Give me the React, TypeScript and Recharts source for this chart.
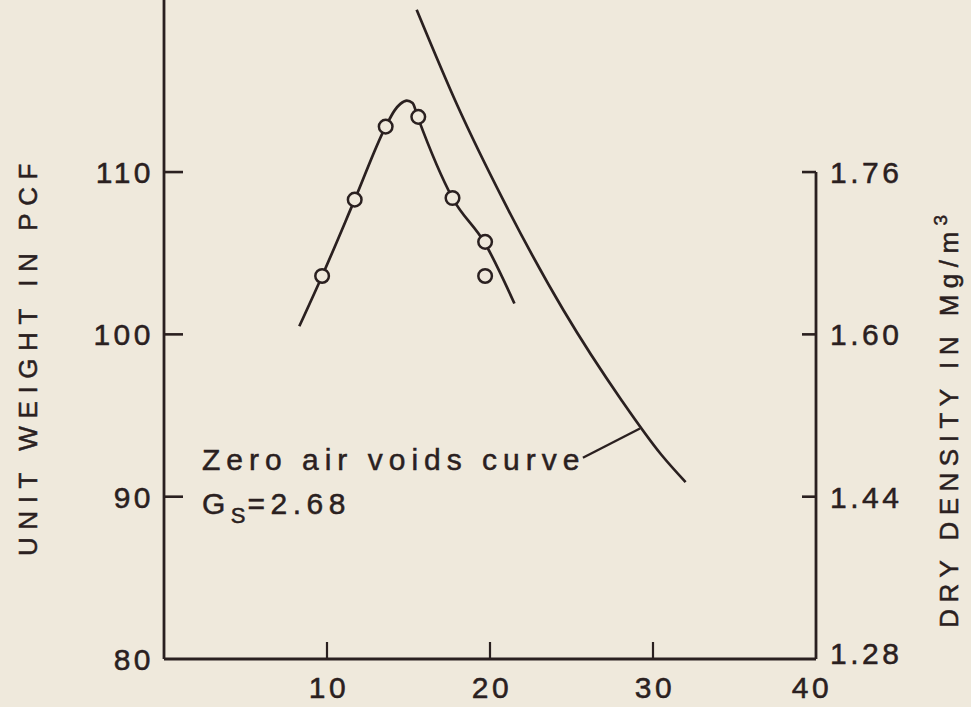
import React from 'react';
import { ComposedChart, Line, Scatter, XAxis, YAxis, ReferenceLine } from 'recharts';

// ---- data ----
const waterContentTicks = [10, 20, 30, 40];
const unitWeightTicks = [80, 90, 100, 110];
const dryDensityTicks = [1.28, 1.44, 1.6, 1.76];

// compaction test points (water content %, unit weight pcf)
const testWater = [9.7, 11.7, 13.6, 15.6, 17.7, 19.7, 19.7];
const testWeight = [103.6, 108.3, 112.8, 113.4, 108.4, 105.7, 103.6];

// fitted compaction curve
const curveWater = [8.3, 9.7, 11.7, 13.6, 14.15, 14.5, 14.9, 15.25, 15.56, 17.7, 19.7, 21.5];
const curveWeight = [100.5, 103.6, 108.3, 112.8, 113.8, 114.2, 114.4, 114.25, 113.4, 108.4, 105.6, 101.9];

// zero air voids curve (Gs = 2.68)
const zavWater = [15.5, 18.0, 20.8, 24.5, 28.1, 30.5, 32.0];
const zavWeight = [120.0, 114.1, 108.3, 101.5, 95.9, 92.6, 90.9];

const BG = '#efe9dc';
const INK = '#2a2020';
const FONT = '"Liberation Sans", Arial, Helvetica, sans-serif';

const testPoints = testWater.map((x, i) => ({ x, y: testWeight[i] }));
const curvePoints = curveWater.map((x, i) => ({ x, y: curveWeight[i] }));
const zavPoints = zavWater.map((x, i) => ({ x, y: zavWeight[i] }));

const textStyle = { fill: INK, stroke: INK, strokeWidth: 0.5, fontFamily: FONT } as const;

const LeftTick = (props: any) => {
  const { x, y, payload } = props;
  return (
    <g>
      {payload.value !== 80 && (
        <line x1={x} y1={y} x2={x + 19} y2={y} stroke={INK} strokeWidth={2.6} />
      )}
      <text x={x - 10} y={y} dy={11} textAnchor="end" fontSize={30} letterSpacing={3.5} {...textStyle}>
        {payload.value}
      </text>
    </g>
  );
};

const RightTick = (props: any) => {
  const { x, y, payload } = props;
  const v = Number(payload.value);
  return (
    <g>
      {v !== 1.28 && <line x1={x - 14} y1={y} x2={x} y2={y} stroke={INK} strokeWidth={2.6} />}
      <text x={x + 14} y={y} dy={v === 1.28 ? 5 : 11} textAnchor="start" fontSize={30} letterSpacing={3.5} {...textStyle}>
        {v.toFixed(2)}
      </text>
    </g>
  );
};

const BottomTick = (props: any) => {
  const { x, y, payload } = props;
  const shift = payload.value === 40 ? -4 : 2;
  return (
    <g>
      {payload.value < 40 && <line x1={x} y1={y} x2={x} y2={y - 17} stroke={INK} strokeWidth={2.2} />}
      <text x={x + shift} y={y + 39} textAnchor="middle" fontSize={30} letterSpacing={3.5} {...textStyle}>
        {payload.value}
      </text>
    </g>
  );
};

const Circle = (props: any) => {
  const { cx, cy } = props;
  return <circle cx={cx} cy={cy} r={6.8} fill={BG} stroke={INK} strokeWidth={2.5} />;
};

export default function App() {
  return (
    <div style={{ position: 'absolute', left: 0, top: 0, width: 971, height: 707, background: BG, overflow: 'hidden' }}>
      <ComposedChart width={971} height={707} margin={{ top: 0, right: 0, bottom: 0, left: 0 }}>
        <XAxis
          type="number"
          dataKey="x"
          domain={[0, 40]}
          ticks={waterContentTicks}
          interval={0}
          height={48}
          tickSize={0}
          tickMargin={0}
          tickLine={false}
          tick={<BottomTick />}
          axisLine={{ stroke: INK, strokeWidth: 2.8 }}
          allowDataOverflow
        />
        <YAxis
          yAxisId="left"
          type="number"
          dataKey="y"
          domain={[80, 120.6]}
          ticks={unitWeightTicks}
          interval={0}
          width={164}
          tickSize={0}
          tickMargin={0}
          tickLine={false}
          tick={<LeftTick />}
          axisLine={{ stroke: INK, strokeWidth: 2.8 }}
          allowDataOverflow
        />
        <YAxis
          yAxisId="right"
          orientation="right"
          type="number"
          domain={[1.28, 1.9296]}
          ticks={dryDensityTicks}
          interval={0}
          width={155}
          tickSize={0}
          tickMargin={0}
          tickLine={false}
          tick={<RightTick />}
          axisLine={false}
          allowDataOverflow
        />
        <ReferenceLine
          yAxisId="left"
          segment={[{ x: 40, y: 80 }, { x: 40, y: 110 }]}
          stroke={INK}
          strokeWidth={2.8}
          ifOverflow="visible"
        />
        <ReferenceLine
          yAxisId="left"
          segment={[{ x: 25.7, y: 92.4 }, { x: 29.2, y: 94.2 }]}
          stroke={INK}
          strokeWidth={2.4}
          ifOverflow="visible"
        />
        <Line
          yAxisId="left"
          data={zavPoints}
          dataKey="y"
          type="monotone"
          stroke={INK}
          strokeWidth={2.7}
          dot={false}
          activeDot={false}
          isAnimationActive={false}
        />
        <Line
          yAxisId="left"
          data={curvePoints}
          dataKey="y"
          type="monotone"
          stroke={INK}
          strokeWidth={2.7}
          dot={false}
          activeDot={false}
          isAnimationActive={false}
        />
        <Scatter
          yAxisId="left"
          data={testPoints}
          dataKey="y"
          shape={<Circle />}
          isAnimationActive={false}
        />
      </ComposedChart>
      <svg width={971} height={707} style={{ position: 'absolute', left: 0, top: 0, pointerEvents: 'none' }}>
        <text x={202} y={470} fontSize={30} letterSpacing={6} {...textStyle}>
          Zero air voids curve
        </text>
        <text x={202} y={514} fontSize={30} letterSpacing={5.5} {...textStyle}>
          G
          <tspan fontSize={22} dy={9} letterSpacing={2}>S</tspan>
          <tspan dy={-9}>=2.68</tspan>
        </text>
        <text
          transform="translate(37, 356) rotate(-90)"
          x={0}
          y={0}
          textAnchor="middle"
          fontSize={26}
          letterSpacing={7.6}
          {...textStyle}
        >
          UNIT WEIGHT IN PCF
        </text>
        <text
          transform="translate(958, 418) rotate(-90)"
          x={0}
          y={0}
          textAnchor="middle"
          fontSize={26}
          letterSpacing={6.5}
          {...textStyle}
        >
          DRY DENSITY IN Mg/m
          <tspan fontSize={19} dy={-11}>3</tspan>
        </text>
      </svg>
    </div>
  );
}
